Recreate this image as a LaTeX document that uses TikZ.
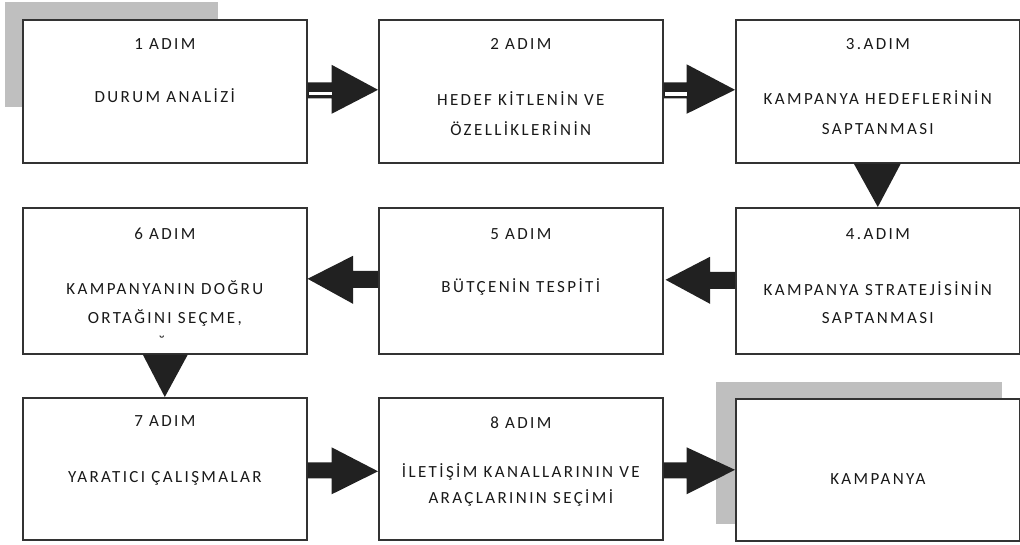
\documentclass[tikz,border=0pt]{standalone}
\usepackage{fontspec}
\setmainfont{Carlito}[LetterSpace=14]
\usetikzlibrary{calc}
\begin{document}
\begin{tikzpicture}[x=1pt,y=-1pt,
  box/.style={draw=black!80, line width=1.6pt, fill=white, minimum width=284pt, inner sep=0pt, anchor=north west},
  r1/.style={box, minimum height=143pt},
  r2/.style={box, minimum height=146pt},
  r3/.style={box, minimum height=142pt},
  arr/.style={fill=black!87},
  gap/.style={fill=white},
  shadowbox/.style={fill=black!25},
  ln/.style={font=\fontsize{17}{17}\selectfont, text=black!90, anchor=base, inner sep=0pt}]
\useasboundingbox (0,0) rectangle (1020,544);
% shadows
\fill[shadowbox] (5,2) rectangle (218,107);
\fill[shadowbox] (716,382) rectangle (1002,524);
% boxes
\node[r1] (b1) at (22,19) {};
\node[r1] (b2) at (378,19) {};
\node[r1] (b3) at (735,19) {};
\node[r2] (b4) at (735,207) {};
\node[r2] (b5) at (378,207) {};
\node[r2] (b6) at (22,207) {};
\node[r3] (b7) at (22,397) {};
\node[r3] (b8) at (378,397) {};
\node[r3] (bk) at (735,398) {};
% texts
\node[ln] (t1) at ($(b1.north)+(0,30)$) {1 ADIM};
\node[ln] (d1) at ($(b1.north)+(0,83)$) {DURUM ANALİZİ};
\node[ln] (t2) at ($(b2.north)+(0,30)$) {2 ADIM};
\node[ln] (d2a) at ($(b2.north)+(0,86)$) {HEDEF KİTLENİN VE};
\node[ln] (d2b) at ($(b2.north)+(0,116)$) {ÖZELLİKLERİNİN};
\node[ln] (t3) at ($(b3.north)+(0,30)$) {3.ADIM};
\node[ln] (d3a) at ($(b3.north)+(0,85)$) {KAMPANYA HEDEFLERİNİN};
\node[ln] (d3b) at ($(b3.north)+(0,115)$) {SAPTANMASI};
\node[ln] (t4) at ($(b4.north)+(0,32.5)$) {4.ADIM};
\node[ln] (d4a) at ($(b4.north)+(0,88)$) {KAMPANYA STRATEJİSİNİN};
\node[ln] (d4b) at ($(b4.north)+(0,116)$) {SAPTANMASI};
\node[ln] (t5) at ($(b5.north)+(0,32.5)$) {5 ADIM};
\node[ln] (d5) at ($(b5.north)+(0,85)$) {BÜTÇENİN TESPİTİ};
\node[ln] (t6) at ($(b6.north)+(0,32.5)$) {6 ADIM};
\node[ln] (d6a) at ($(b6.north)+(0,87)$) {KAMPANYANIN DOĞRU};
\node[ln] (d6b) at ($(b6.north)+(0,116)$) {ORTAĞINI SEÇME,};
\node[ln] (d6c) at ($(b6.north)+(-3,140)$) {˘};
\node[ln] (t7) at ($(b7.north)+(0,29)$) {7 ADIM};
\node[ln] (d7) at ($(b7.north)+(0,85)$) {YARATICI ÇALIŞMALAR};
\node[ln] (t8) at ($(b8.north)+(0,31)$) {8 ADIM};
\node[ln] (d8a) at ($(b8.north)+(0,80)$) {İLETİŞİM KANALLARININ VE};
\node[ln] (d8b) at ($(b8.north)+(0,106)$) {ARAÇLARININ SEÇİMİ};
\node[ln] (dk) at ($(bk.north)+(0,86)$) {KAMPANYA};
% arrow 1 -> 2
\fill[arr] ($(b1.east)+(0,-9)$) -- ($(b1.east)+(24,-9)$) -- ($(b1.east)+(24,-26.5)$) -- ($(b2.west)+(0,-1.5)$) -- ($(b1.east)+(24,22.5)$) -- ($(b1.east)+(24,7)$) -- ($(b1.east)+(0,7)$) -- cycle;
\fill[gap] ($(b1.east)+(1,0.3)$) rectangle ($(b1.east)+(24,3.6)$);
% arrow 2 -> 3
\fill[arr] ($(b2.east)+(0,-9)$) -- ($(b2.east)+(23,-9)$) -- ($(b2.east)+(23,-27)$) -- ($(b3.west)+(0,-1.5)$) -- ($(b2.east)+(23,22.5)$) -- ($(b2.east)+(23,7)$) -- ($(b2.east)+(0,7)$) -- cycle;
\fill[gap] ($(b2.east)+(1,0.8)$) rectangle ($(b2.east)+(23,4.2)$);
% arrow 3 -> 4
\fill[arr] ($(b3.south)+(-24,0)$) -- ($(b3.south)+(23,0)$) -- (b4.north) -- cycle;
% arrow 4 -> 5
\fill[arr] ($(b4.west)+(0,-9)$) -- ($(b4.west)+(-25,-9)$) -- ($(b4.west)+(-25,-24)$) -- ($(b5.east)+(2,-1)$) -- ($(b4.west)+(-25,23)$) -- ($(b4.west)+(-25,8)$) -- ($(b4.west)+(0,8)$) -- cycle;
% arrow 5 -> 6
\fill[arr] ($(b5.west)+(0,-10)$) -- ($(b5.west)+(-25,-10)$) -- ($(b5.west)+(-25,-25)$) -- ($(b6.east)+(0,-2)$) -- ($(b5.west)+(-25,23)$) -- ($(b5.west)+(-25,7)$) -- ($(b5.west)+(0,7)$) -- cycle;
% arrow 6 -> 7
\fill[arr] ($(b6.south)+(-22,0)$) -- ($(b6.south)+(23,0)$) -- (b7.north) -- cycle;
% arrow 7 -> 8
\fill[arr] ($(b7.east)+(0,-6.5)$) -- ($(b7.east)+(24,-6.5)$) -- ($(b7.east)+(24,-21.5)$) -- ($(b8.west)+(0,2.5)$) -- ($(b7.east)+(24,25.5)$) -- ($(b7.east)+(24,9.5)$) -- ($(b7.east)+(0,9.5)$) -- cycle;
% arrow 8 -> kampanya
\fill[arr] ($(b8.east)+(0,-6.5)$) -- ($(b8.east)+(23,-6.5)$) -- ($(b8.east)+(23,-21.5)$) -- (bk.west) -- ($(b8.east)+(23,25.5)$) -- ($(b8.east)+(23,9.5)$) -- ($(b8.east)+(0,9.5)$) -- cycle;
\end{tikzpicture}
\end{document}
